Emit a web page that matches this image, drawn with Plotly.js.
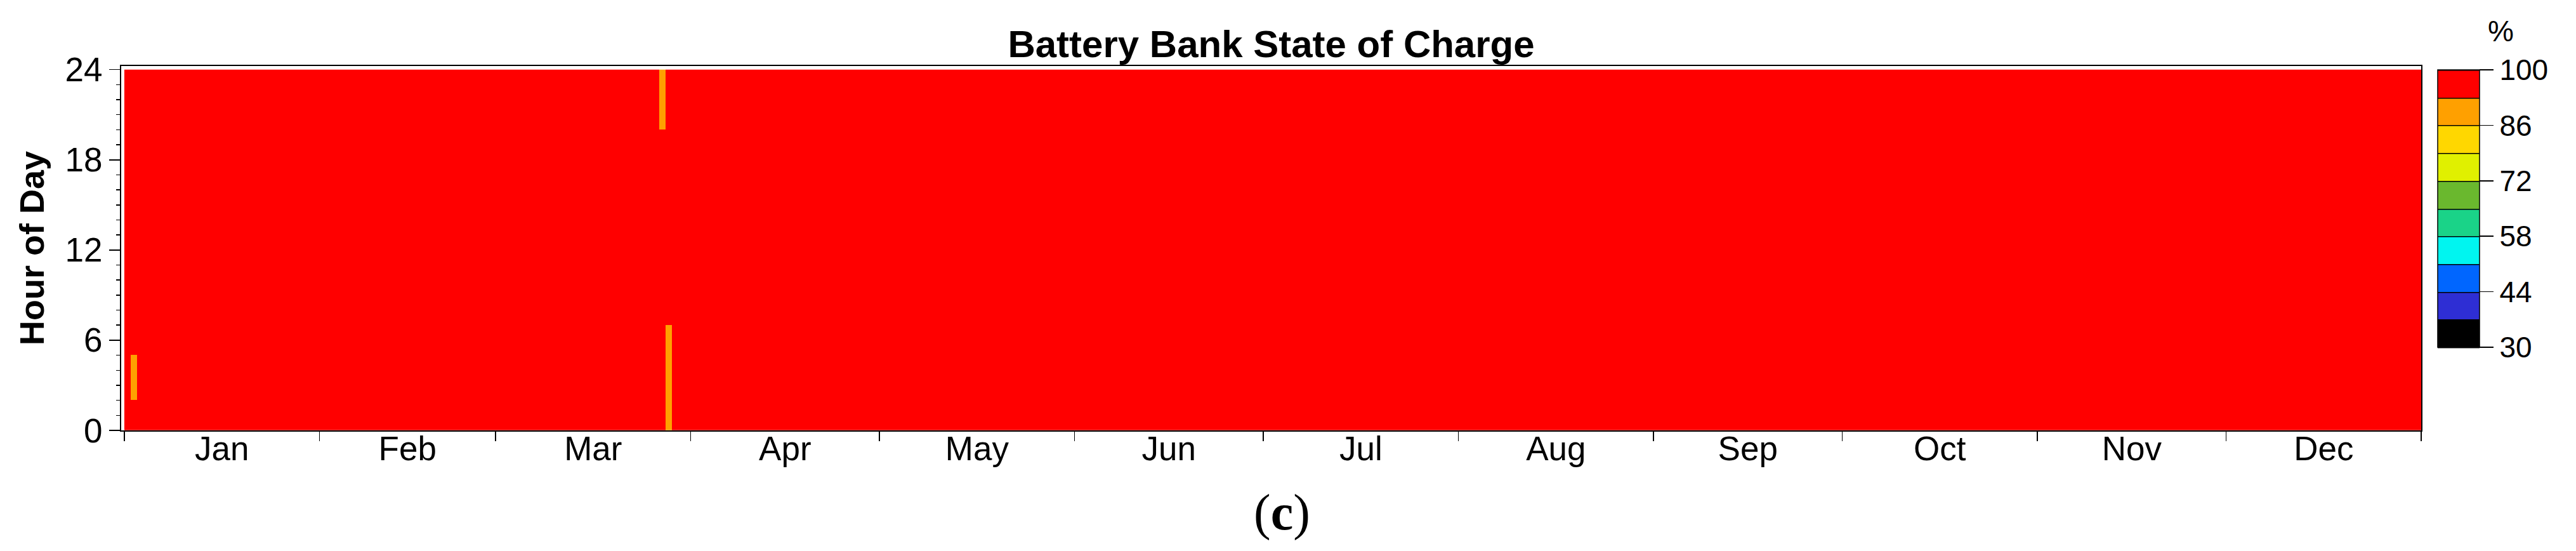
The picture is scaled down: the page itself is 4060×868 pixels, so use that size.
<!DOCTYPE html>
<html>
<head>
<meta charset="utf-8">
<script src="https://cdn.plot.ly/plotly-3.0.1.min.js"></script>
<style>
  html, body { margin: 0; padding: 0; background: #fff; }
  #chart { width: 4060px; height: 868px; }
</style>
</head>
<body>
<div id="chart"></div>
<script>
// year shown on the x axis (365 days, one column per day)
const year = 2021;
const hours = [0, 1, 2, 3, 4, 5, 6, 7, 8, 9, 10, 11, 12, 13, 14, 15, 16, 17, 18, 19, 20, 21, 22, 23];

// battery sits at full charge except for a few short dips
const fullSoc = 100;
const dipDates = ['2021-01-02', '2021-03-27', '2021-03-28'];
const dipFromHour = [2, 20, 0];
const dipToHour = [4, 23, 6];
const dipSoc = [90, 90, 90];

// colour bands of the legend, low to high
const bandEdges = [30, 37, 44, 51, 58, 65, 72, 79, 86, 93, 100];
const bandColors = ['#000000', '#2e2ed4', '#0066ff', '#00f5f0', '#1ad388',
                    '#6ab82e', '#e0f000', '#ffd700', '#ffa000', '#ff0000'];
const legendTicks = [30, 44, 58, 72, 86, 100];

// build the day list and the hour x day matrix
const days = [];
const d = new Date(Date.UTC(year, 0, 1));
while (d.getUTCFullYear() === year) {
    days.push(d.toISOString().slice(0, 10));
    d.setUTCDate(d.getUTCDate() + 1);
}
const z = hours.map(() => days.map(() => fullSoc));
dipDates.forEach((day, i) => {
    const col = days.indexOf(day);
    for (let h = dipFromHour[i]; h <= dipToHour[i]; h++) z[h][col] = dipSoc[i];
});

const zmin = bandEdges[0], zmax = bandEdges[bandEdges.length - 1];
const colorscale = [];
bandColors.forEach((c, i) => {
    colorscale.push([(bandEdges[i] - zmin) / (zmax - zmin), c]);
    colorscale.push([(bandEdges[i + 1] - zmin) / (zmax - zmin), c]);
});

const xDays = days.map(s => s + ' 12:00');
const yHours = hours.map(h => h + 0.5);

const font = 'Liberation Sans, Arial, sans-serif';

// contour trace only supplies the banded colour bar
const legendTrace = {
    type: 'contour',
    x: xDays, y: yHours, z: z,
    opacity: 0,
    autocontour: false,
    contours: { start: zmin, end: zmax, size: bandEdges[1] - bandEdges[0], coloring: 'fill' },
    line: { color: '#000', width: 1.5 },
    colorscale: colorscale, zmin: zmin, zmax: zmax,
    hoverinfo: 'skip',
    showscale: true,
    colorbar: {
        x: 1.0072, xanchor: 'left', xpad: 0,
        y: 0.9895, yanchor: 'top', ypad: 0,
        len: 437, lenmode: 'pixels',
        thickness: 66,
        outlinewidth: 1.5, outlinecolor: '#000',
        tickmode: 'array', tickvals: legendTicks,
        ticks: 'outside', ticklen: 22, tickwidth: 1.5, tickcolor: '#000',
        tickfont: { family: font, size: 46, color: '#000' }
    }
};

const socTrace = {
    type: 'heatmap',
    x: xDays, y: yHours, z: z,
    colorscale: colorscale, zmin: zmin, zmax: zmax,
    zsmooth: false,
    showscale: false
};

const layout = {
    width: 4060, height: 868,
    margin: { l: 191, r: 244, t: 104, b: 190 },
    paper_bgcolor: '#fff', plot_bgcolor: '#fff',
    font: { family: font, color: '#000' },
    showlegend: false,
    title: {
        text: 'Battery Bank State of Charge',
        font: { family: font, size: 60, weight: 'bold', color: '#000' },
        x: 0.5, xref: 'paper', xanchor: 'center',
        y: 0.92, yref: 'container', yanchor: 'middle'
    },
    xaxis: {
        type: 'date',
        range: [(year - 1) + '-12-31 12:00', (year + 1) + '-01-01 00:00'],
        tick0: year + '-01-01', dtick: 'M1',
        ticklabelmode: 'period', tickformat: '%b',
        ticklabelstandoff: -34,
        ticks: 'outside', ticklen: 15, tickwidth: 1.5, tickcolor: '#000',
        tickfont: { family: font, size: 53 },
        showline: true, linecolor: '#000', linewidth: 2, mirror: true,
        showgrid: false, zeroline: false
    },
    yaxis: {
        range: [0, 24.24],
        tickmode: 'linear', tick0: 0, dtick: 6,
        ticks: 'outside', ticklen: 17, tickwidth: 1.5, tickcolor: '#000',
        minor: { dtick: 1, ticks: 'outside', ticklen: 6, tickwidth: 1.5, tickcolor: '#000', showgrid: false },
        tickfont: { family: font, size: 53 },
        title: { text: 'Hour of Day', font: { family: font, size: 54, weight: 'bold' }, standoff: 16 },
        showline: true, linecolor: '#000', linewidth: 2, mirror: true,
        showgrid: false, zeroline: false
    },
    annotations: [
        {
            text: '%', xref: 'paper', yref: 'paper', x: 1.0345, y: 1.095,
            xanchor: 'center', yanchor: 'middle', showarrow: false,
            font: { family: font, size: 46, color: '#000' }
        },
        {
            text: '(<b>c</b>)', xref: 'paper', yref: 'paper', x: 0.5048, y: -0.225,
            xanchor: 'center', yanchor: 'middle', showarrow: false,
            font: { family: 'Liberation Serif, Times New Roman, serif', size: 80, color: '#000' }
        }
    ]
};

Plotly.newPlot('chart', [legendTrace, socTrace], layout, { displayModeBar: false, staticPlot: true });
</script>
</body>
</html>
